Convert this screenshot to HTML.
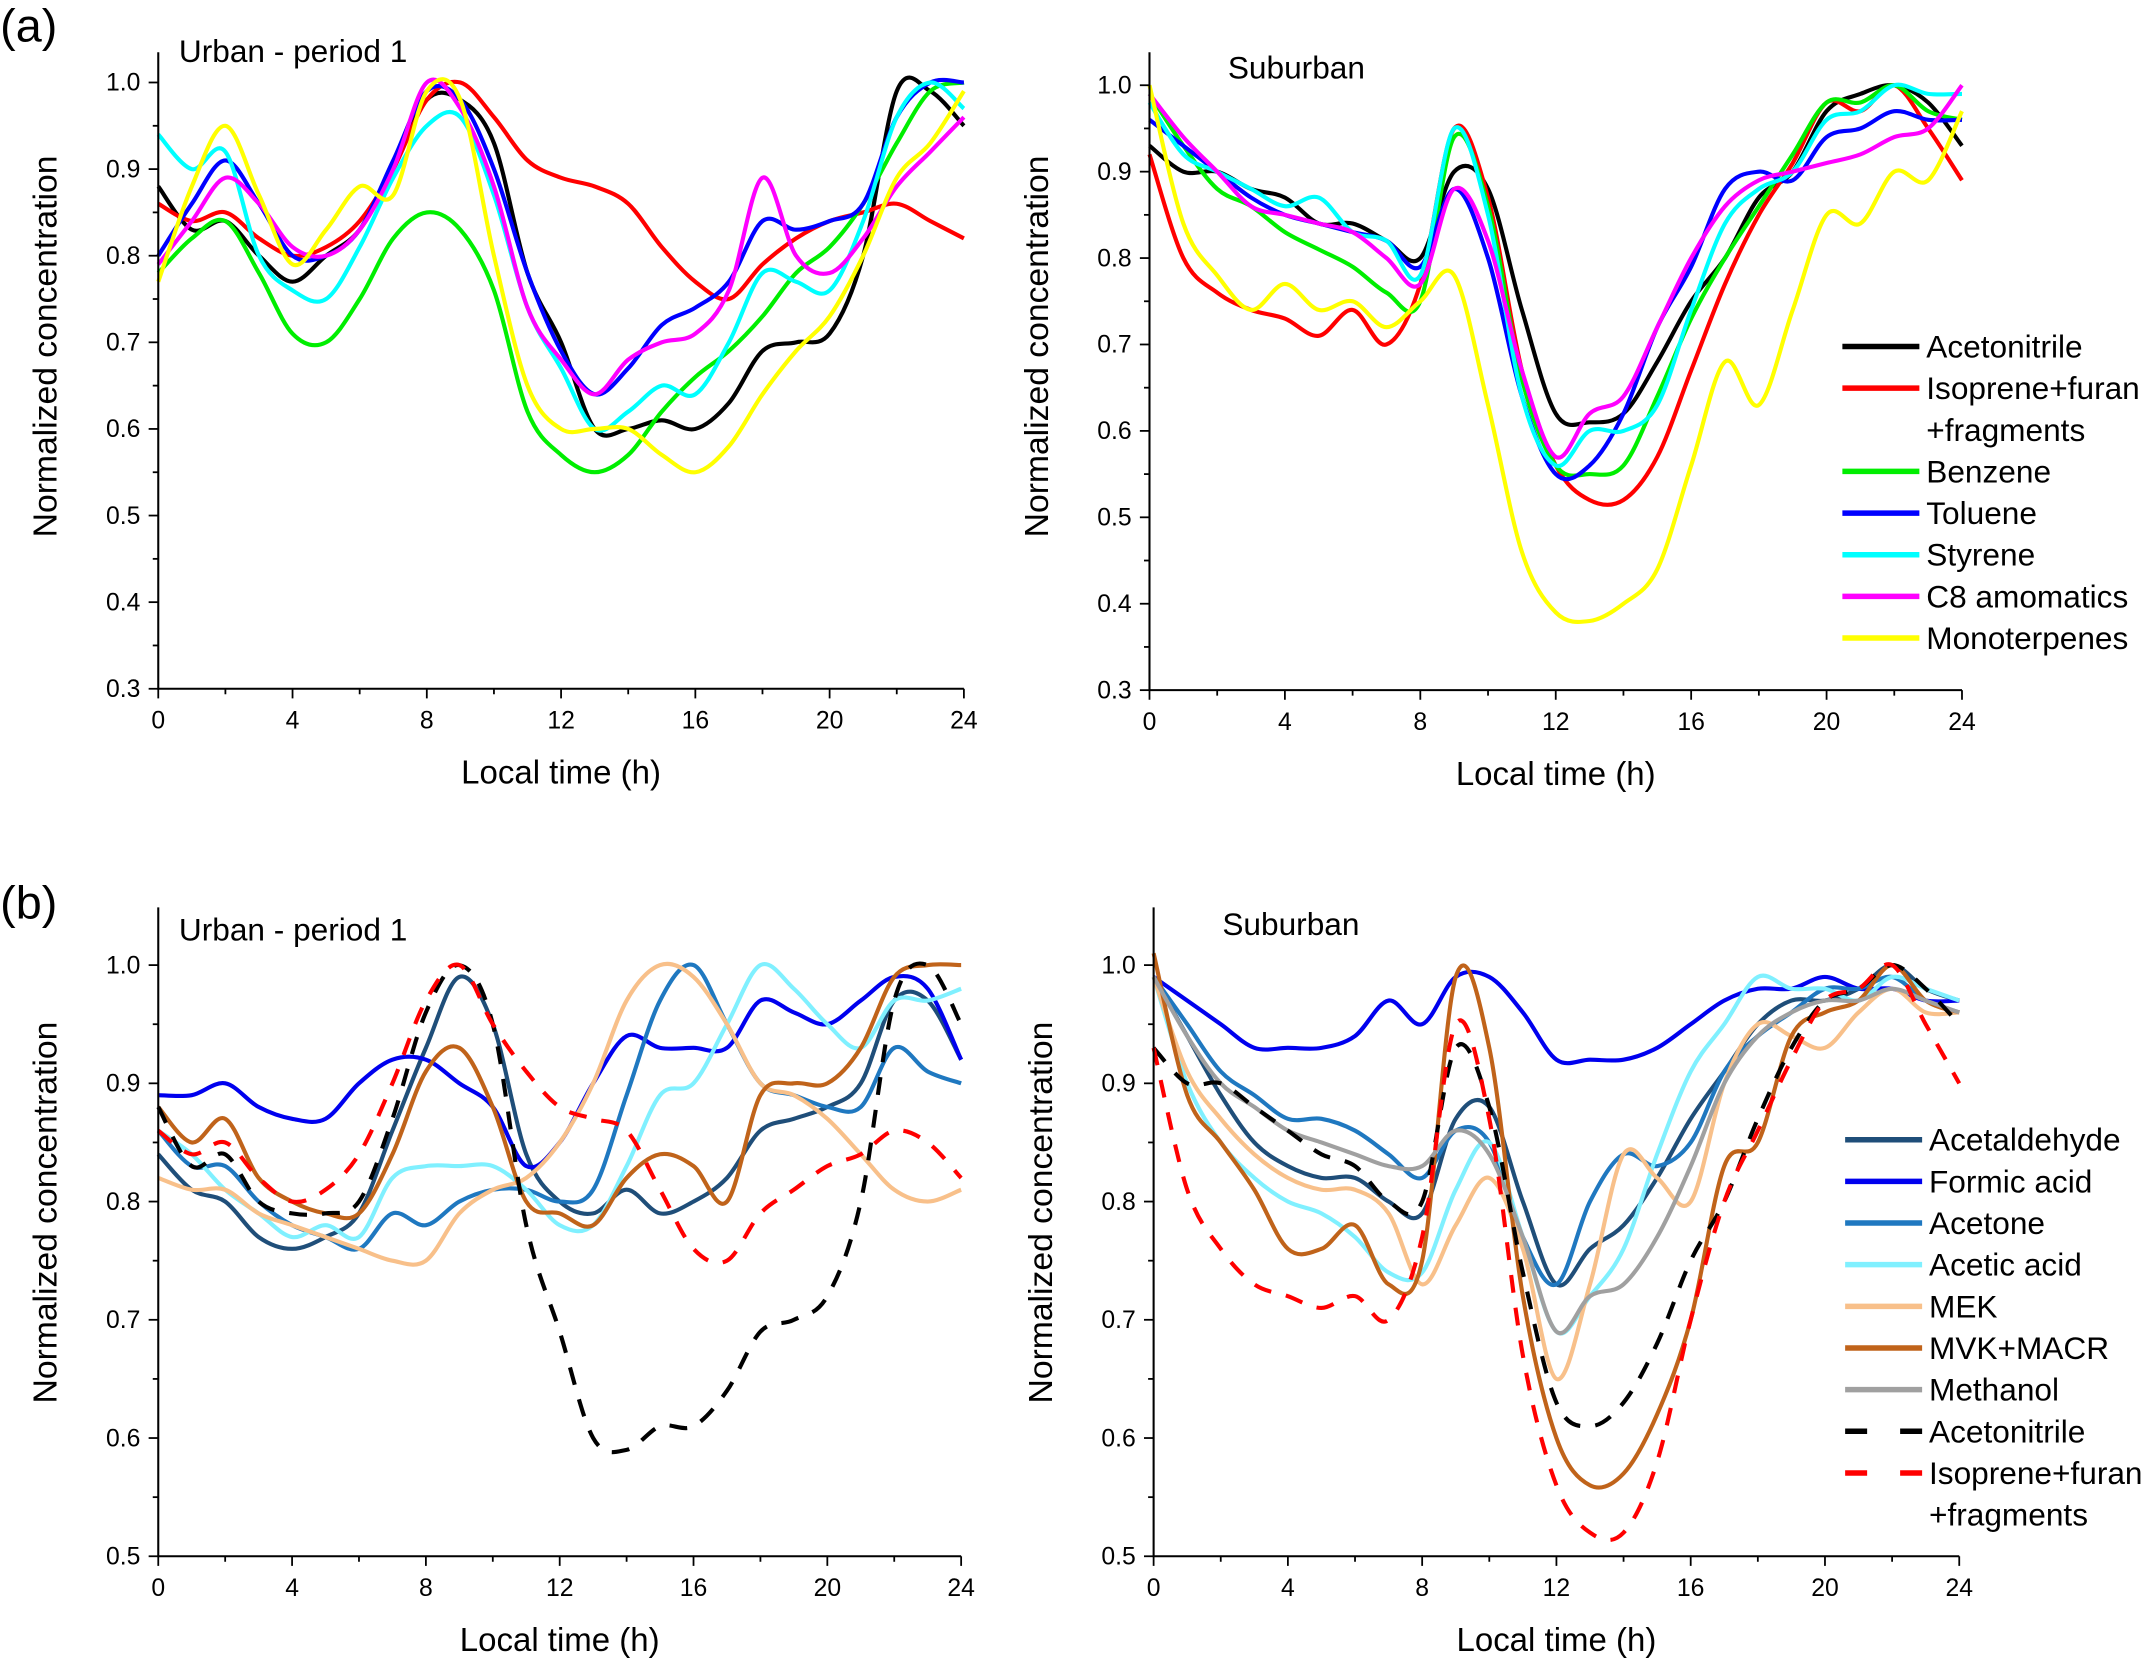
<!DOCTYPE html>
<html><head><meta charset="utf-8"><style>
html,body{margin:0;padding:0;background:#fff;}
svg{display:block;font-family:"Liberation Sans",Arial,sans-serif;}
</style></head><body>
<svg id="fig" width="2156" height="1658" viewBox="0 0 1568 1206" xmlns="http://www.w3.org/2000/svg"></svg>
<script>
const hours=[0,1,2,3,4,5,6,7,8,9,10,11,12,13,14,15,16,17,18,19,20,21,22,23,24];
// Panel a - Urban
const aU_acetonitrile=[0.88,0.83,0.84,0.8,0.77,0.8,0.83,0.9,0.98,0.98,0.93,0.78,0.7,0.6,0.6,0.61,0.6,0.63,0.69,0.7,0.71,0.8,0.99,0.99,0.95];
const aU_isoprene=[0.86,0.84,0.85,0.82,0.8,0.81,0.84,0.9,0.98,1.0,0.96,0.91,0.89,0.88,0.86,0.81,0.77,0.75,0.79,0.82,0.84,0.85,0.86,0.84,0.82];
const aU_benzene=[0.78,0.82,0.84,0.78,0.71,0.7,0.75,0.82,0.85,0.83,0.76,0.62,0.57,0.55,0.57,0.62,0.66,0.69,0.73,0.78,0.81,0.86,0.93,0.99,1.0];
const aU_toluene=[0.8,0.86,0.91,0.86,0.8,0.8,0.83,0.91,0.99,0.98,0.9,0.78,0.69,0.64,0.67,0.72,0.74,0.77,0.84,0.83,0.84,0.86,0.96,1.0,1.0];
const aU_styrene=[0.94,0.9,0.92,0.8,0.76,0.75,0.81,0.89,0.95,0.96,0.87,0.74,0.67,0.6,0.62,0.65,0.64,0.7,0.78,0.77,0.76,0.84,0.96,1.0,0.97];
const aU_c8=[0.79,0.84,0.89,0.86,0.81,0.8,0.83,0.9,1.0,0.97,0.88,0.74,0.68,0.64,0.68,0.7,0.71,0.76,0.89,0.8,0.78,0.82,0.88,0.92,0.96];
const aU_mono=[0.77,0.88,0.95,0.87,0.79,0.83,0.88,0.87,0.99,0.98,0.8,0.65,0.6,0.6,0.6,0.57,0.55,0.58,0.64,0.69,0.73,0.8,0.89,0.93,0.99];
// Panel a - Suburban
const aS_acetonitrile=[0.93,0.9,0.9,0.88,0.87,0.84,0.84,0.82,0.8,0.9,0.88,0.74,0.62,0.61,0.62,0.68,0.75,0.8,0.87,0.9,0.97,0.99,1.0,0.98,0.93];
const aS_isoprene=[0.92,0.8,0.76,0.74,0.73,0.71,0.74,0.7,0.77,0.95,0.87,0.67,0.56,0.52,0.52,0.57,0.67,0.77,0.85,0.91,0.98,0.97,1.0,0.95,0.89];
const aS_benzene=[0.99,0.93,0.88,0.86,0.83,0.81,0.79,0.76,0.75,0.94,0.86,0.66,0.56,0.55,0.56,0.64,0.73,0.8,0.86,0.92,0.98,0.98,1.0,0.97,0.96];
const aS_toluene=[0.96,0.93,0.9,0.87,0.85,0.84,0.83,0.82,0.79,0.88,0.8,0.64,0.55,0.56,0.62,0.72,0.79,0.88,0.9,0.89,0.94,0.95,0.97,0.96,0.96];
const aS_styrene=[0.98,0.92,0.9,0.88,0.86,0.87,0.83,0.82,0.78,0.95,0.85,0.64,0.56,0.6,0.6,0.63,0.74,0.84,0.88,0.9,0.96,0.97,1.0,0.99,0.99];
const aS_c8=[0.99,0.94,0.9,0.86,0.85,0.84,0.83,0.8,0.77,0.88,0.82,0.67,0.57,0.62,0.64,0.72,0.8,0.86,0.89,0.9,0.91,0.92,0.94,0.95,1.0];
const aS_mono=[1.0,0.84,0.78,0.74,0.77,0.74,0.75,0.72,0.75,0.78,0.63,0.46,0.39,0.38,0.4,0.44,0.56,0.68,0.63,0.74,0.85,0.84,0.9,0.89,0.97];
// Panel b - Urban
const bU_acetaldehyde=[0.84,0.81,0.8,0.77,0.76,0.77,0.79,0.86,0.93,0.99,0.95,0.84,0.8,0.79,0.81,0.79,0.8,0.82,0.86,0.87,0.88,0.9,0.97,0.97,0.92];
const bU_formic=[0.89,0.89,0.9,0.88,0.87,0.87,0.9,0.92,0.92,0.9,0.88,0.83,0.85,0.9,0.94,0.93,0.93,0.93,0.97,0.96,0.95,0.97,0.99,0.98,0.92];
const bU_acetone=[0.86,0.83,0.83,0.8,0.78,0.77,0.76,0.79,0.78,0.8,0.81,0.81,0.8,0.81,0.89,0.97,1.0,0.95,0.9,0.89,0.88,0.88,0.93,0.91,0.9];
const bU_acetic=[0.86,0.84,0.81,0.79,0.77,0.78,0.77,0.82,0.83,0.83,0.83,0.81,0.78,0.78,0.83,0.89,0.9,0.95,1.0,0.98,0.95,0.93,0.97,0.97,0.98];
const bU_mek=[0.82,0.81,0.81,0.79,0.78,0.77,0.76,0.75,0.75,0.79,0.81,0.82,0.85,0.9,0.97,1.0,0.99,0.95,0.9,0.89,0.87,0.84,0.81,0.8,0.81];
const bU_mvk=[0.88,0.85,0.87,0.82,0.8,0.79,0.79,0.84,0.91,0.93,0.88,0.8,0.79,0.78,0.82,0.84,0.83,0.8,0.89,0.9,0.9,0.93,0.99,1.0,1.0];
const bU_acetonitrile=[0.88,0.83,0.84,0.8,0.79,0.79,0.8,0.87,0.96,1.0,0.95,0.78,0.69,0.6,0.59,0.61,0.61,0.64,0.69,0.7,0.72,0.8,0.97,1.0,0.95];
const bU_isoprene=[0.86,0.84,0.85,0.82,0.8,0.81,0.84,0.9,0.97,1.0,0.95,0.91,0.88,0.87,0.86,0.81,0.76,0.75,0.79,0.81,0.83,0.84,0.86,0.85,0.82];
// Panel b - Suburban
const bS_acetaldehyde=[0.99,0.94,0.89,0.85,0.83,0.82,0.82,0.8,0.79,0.87,0.88,0.8,0.73,0.76,0.78,0.82,0.87,0.91,0.95,0.97,0.97,0.98,1.0,0.98,0.97];
const bS_formic=[0.99,0.97,0.95,0.93,0.93,0.93,0.94,0.97,0.95,0.99,0.99,0.96,0.92,0.92,0.92,0.93,0.95,0.97,0.98,0.98,0.99,0.98,0.98,0.97,0.97];
const bS_acetone=[0.99,0.95,0.91,0.89,0.87,0.87,0.86,0.84,0.82,0.86,0.85,0.77,0.73,0.8,0.84,0.83,0.85,0.91,0.94,0.96,0.98,0.98,0.99,0.97,0.96];
const bS_acetic=[0.99,0.9,0.85,0.82,0.8,0.79,0.77,0.74,0.74,0.81,0.85,0.77,0.69,0.72,0.76,0.84,0.91,0.95,0.99,0.98,0.98,0.97,0.99,0.98,0.97];
const bS_mek=[0.99,0.91,0.87,0.84,0.82,0.81,0.81,0.79,0.73,0.78,0.82,0.76,0.65,0.73,0.84,0.82,0.8,0.9,0.95,0.94,0.93,0.96,0.98,0.96,0.96];
const bS_mvk=[1.01,0.89,0.85,0.81,0.76,0.76,0.78,0.73,0.75,0.99,0.93,0.72,0.6,0.56,0.57,0.62,0.7,0.83,0.85,0.94,0.96,0.97,1.0,0.97,0.96];
const bS_methanol=[0.99,0.94,0.9,0.88,0.86,0.85,0.84,0.83,0.83,0.86,0.84,0.77,0.69,0.72,0.73,0.77,0.83,0.9,0.94,0.96,0.97,0.97,0.98,0.97,0.96];
const bS_acetonitrile=[0.93,0.9,0.9,0.88,0.86,0.84,0.83,0.8,0.8,0.93,0.88,0.74,0.63,0.61,0.63,0.68,0.75,0.8,0.87,0.93,0.97,0.98,1.0,0.98,0.95];
const bS_isoprene=[0.93,0.81,0.76,0.73,0.72,0.71,0.72,0.7,0.77,0.95,0.87,0.67,0.56,0.52,0.52,0.58,0.7,0.8,0.86,0.92,0.97,0.98,1.0,0.95,0.9];
const xTicks=[0,4,8,12,16,20,24];
const yTicksA=[0.3,0.4,0.5,0.6,0.7,0.8,0.9,1.0];
const yTicksB=[0.5,0.6,0.7,0.8,0.9,1.0];

const NS="http://www.w3.org/2000/svg";
const svg=document.getElementById('fig');
function mk(tag,attrs,parent){const e=document.createElementNS(NS,tag);for(const k in attrs)e.setAttribute(k,attrs[k]);(parent||svg).appendChild(e);return e;}
function txt(s,x,y,size,anchor,parent,name){const t=mk('text',{x:x,y:y,'font-size':size,'text-anchor':anchor||'start',fill:'#000'},parent);t.textContent=s;


return t;}

function smoothPath(pts){let d='M'+pts[0][0].toFixed(2)+','+pts[0][1].toFixed(2);
for(let i=0;i<pts.length-1;i++){const p0=pts[Math.max(0,i-1)],p1=pts[i],p2=pts[i+1],p3=pts[Math.min(pts.length-1,i+2)];
const c1=[p1[0]+(p2[0]-p0[0])/6,p1[1]+(p2[1]-p0[1])/6],c2=[p2[0]-(p3[0]-p1[0])/6,p2[1]-(p3[1]-p1[1])/6];
d+='C'+c1[0].toFixed(2)+','+c1[1].toFixed(2)+' '+c2[0].toFixed(2)+','+c2[1].toFixed(2)+' '+p2[0].toFixed(2)+','+p2[1].toFixed(2);}return d;}

function panel(cfg){
 const g=mk('g',{});
 
 
 const X=h=>cfg.x0+(cfg.x1-cfg.x0)*h/24;
 const Y=v=>cfg.y1-(cfg.y1-cfg.y0)*(v-cfg.ymin)/(cfg.ymax-cfg.ymin);
 const clip='clip-'+cfg.name;
 const cp=mk('clipPath',{id:clip},g);mk('rect',{x:cfg.x0-2,y:cfg.top,width:cfg.x1-cfg.x0+4,height:cfg.y1-cfg.top},cp);
 const lines=mk('g',{'clip-path':'url(#'+clip+')'},g);
 cfg.series.forEach(s=>{
  const pts=hours.map((h,i)=>[X(h),Y(s.data[i])]);
  const p=mk('path',{d:smoothPath(pts),fill:'none',stroke:s.color,'stroke-width':3,'stroke-linejoin':'round'},lines);
  if(s.dash)p.setAttribute('stroke-dasharray','13,11');
  
  
 });
 const ax=mk('path',{d:`M${cfg.x0},${cfg.top}V${cfg.y1}H${cfg.x1}`,fill:'none',stroke:'#000','stroke-width':1.5},g);
 
 
 for(let h=0;h<=24;h+=2){const major=h%4===0;mk('line',{x1:X(h),x2:X(h),y1:cfg.y1,y2:cfg.y1+(major?7:4),stroke:'#000','stroke-width':1.3},g);}
 xTicks.forEach(h=>txt(String(h),X(h),cfg.y1+29,18,'middle',g,'x-tick-label'));
 const yt=cfg.yticks;
 for(let v=cfg.ymin;v<=cfg.ymax+0.051;v+=0.05){const major=Math.abs(v*10-Math.round(v*10))<0.01;const yy=Y(v);if(yy<cfg.top)continue;
  mk('line',{x1:cfg.x0,x2:cfg.x0-(major?7:4),y1:yy,y2:yy,stroke:'#000','stroke-width':1.3},g);}
 yt.forEach(v=>txt(v.toFixed(1),cfg.x0-13,Y(v)+6,18,'end',g,'y-tick-label'));
 txt('Local time (h)',(cfg.x0+cfg.x1)/2,cfg.y1+69,24,'middle',g,'x-axis-title');
 const yl=txt('Normalized concentration',0,0,24.5,'middle',g,'y-axis-title');
 yl.setAttribute('transform',`translate(${cfg.x0-74},${cfg.ymid}) rotate(-90)`);
 txt(cfg.title,cfg.tx,cfg.ty,23,'start',g,'panel-title');
}
const A=[['acetonitrile','#000'],['isoprene','#ff0000'],['benzene','#00ee00'],['toluene','#0000ff'],['styrene','#00ffff'],['c8','#ff00ff'],['mono','#ffff00']];
function ser(pre,list){return list.map(([k,c,d])=>({key:k,color:c,dash:d,data:eval(pre+k)}));}
const B=[['acetaldehyde','#1f4e79'],['formic','#0000ee'],['acetone','#1f78c0'],['acetic','#80f0ff'],['mek','#f8c08a'],['mvk','#c0631a'],['methanol','#a0a0a0'],['acetonitrile','#000',true],['isoprene','#ff0000',true]];
panel({name:'panel-a-urban',x0:115,x1:701,y0:60,y1:501,ymin:0.3,ymax:1.0,top:38,ymid:252,yticks:yTicksA,title:'Urban - period 1',tx:130,ty:45,series:ser('aU_',A)});
panel({name:'panel-a-suburban',x0:836,x1:1427,y0:62,y1:502,ymin:0.3,ymax:1.0,top:38,ymid:252,yticks:yTicksA,title:'Suburban',tx:893,ty:57,series:ser('aS_',A)});
panel({name:'panel-b-urban',x0:115,x1:699,y0:702,y1:1132,ymin:0.5,ymax:1.0,top:660,ymid:882,yticks:yTicksB,title:'Urban - period 1',tx:130,ty:684,series:ser('bU_',B.filter(b=>b[0]!=='methanol'))});
panel({name:'panel-b-suburban',x0:839,x1:1425,y0:702,y1:1132,ymin:0.5,ymax:1.0,top:660,ymid:882,yticks:yTicksB,title:'Suburban',tx:889,ty:680,series:ser('bS_',B)});
txt('(a)',0,30,34,'start',svg,'panel-label-a');
txt('(b)',0,668,34,'start',svg,'panel-label-b');
function legend(items,x,y,name){const g=mk('g',{});
 
 
 let yy=y;items.forEach(it=>{const l=mk('line',{x1:x,x2:x+56,y1:yy,y2:yy,stroke:it[1],'stroke-width':4},g);if(it[2])l.setAttribute('stroke-dasharray','16,24');
  txt(it[0],x+61,yy+8,23,'start',g,'legend-entry');
  if(it[3]){yy+=30.3;txt(it[3],x+61,yy+8,23,'start',g,'legend-entry');}
  yy+=30.3;});}
legend([['Acetonitrile','#000'],['Isoprene+furan','#ff0000',false,'+fragments'],['Benzene','#00ee00'],['Toluene','#0000ff'],['Styrene','#00ffff'],['C8 amomatics','#ff00ff'],['Monoterpenes','#ffff00']],1340,252,'legend-a');
legend([['Acetaldehyde','#1f4e79'],['Formic acid','#0000ee'],['Acetone','#1f78c0'],['Acetic acid','#80f0ff'],['MEK','#f8c08a'],['MVK+MACR','#c0631a'],['Methanol','#a0a0a0'],['Acetonitrile','#000',true],['Isoprene+furan','#ff0000',true,'+fragments']],1342,829,'legend-b');
</script>
</body></html>
